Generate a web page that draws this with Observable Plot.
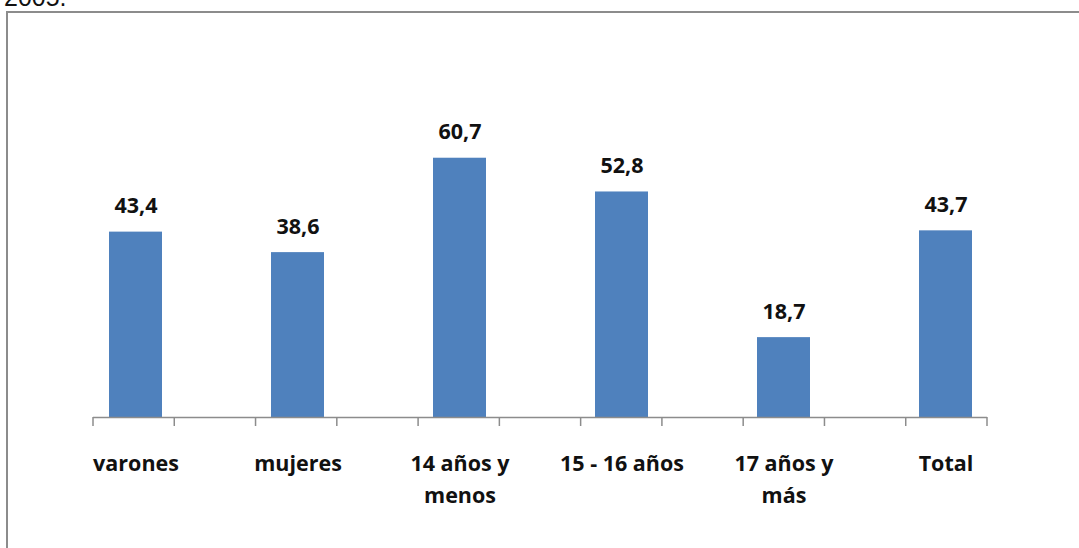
<!DOCTYPE html>
<html>
<head>
<meta charset="utf-8">
<script src="https://cdn.jsdelivr.net/npm/d3@7"></script>
<script src="https://cdn.jsdelivr.net/npm/@observablehq/plot@0.6"></script>
<style>
  html, body { margin: 0; padding: 0; background: #fff; overflow: hidden; width: 1079px; height: 548px; }
  #top { position: absolute; left: 4px; top: -17px; font: 25px "Liberation Sans", Arial, sans-serif; color: #111; }
  #box { position: absolute; left: 6px; top: 11px; width: 1080px; height: 560px; border: 2px solid #8c8c8c; background: #fff; }
  #chart { position: absolute; left: 1px; top: 1px; }
</style>
</head>
<body>
<div id="top">2005.</div>
<div id="box"><div id="chart"></div></div>
<script>
const categories = ["varones", "mujeres", "14 años y\nmenos", "15 - 16 años", "17 años y\nmás", "Total"];
const values = [43.4, 38.6, 60.7, 52.8, 18.7, 43.7];
const valueLabels = ["43,4", "38,6", "60,7", "52,8", "18,7", "43,7"];

const data = categories.map((c, i) => ({cat: c, value: values[i], label: valueLabels[i]}));

const font = "'Open Sans', Lato, sans-serif";

const tickMarks = (index, scales, values, dims) => {
  const g = document.createElementNS("http://www.w3.org/2000/svg", "g");
  const x0 = dims.marginLeft, x1 = dims.width - dims.marginRight;
  const y0 = dims.height - dims.marginBottom;
  const n = 11;
  for (let i = 0; i <= n; i++) {
    const x = x0 + (x1 - x0) * i / n;
    const l = document.createElementNS("http://www.w3.org/2000/svg", "line");
    l.setAttribute("x1", x); l.setAttribute("x2", x);
    l.setAttribute("y1", y0); l.setAttribute("y2", y0 + 9);
    l.setAttribute("stroke", "#8c8c8c");
    l.setAttribute("stroke-width", 1.5);
    g.appendChild(l);
  }
  return g;
};

const chart = Plot.plot({
  width: 1070,
  height: 534,
  marginLeft: 84,
  marginRight: 92,
  marginTop: 104,
  marginBottom: 131,
  style: {fontFamily: font, background: "#fff"},
  x: {domain: categories, paddingInner: 0.674, paddingOuter: 0.087, align: 0.5},
  y: {domain: [0, 70], axis: null},
  marks: [
    Plot.barY(data, {x: "cat", y: "value", fill: "#4f81bd"}),
    Plot.ruleY([0], {stroke: "#8c8c8c", strokeWidth: 1.5}),
    tickMarks,
    Plot.text(data, {x: "cat", y: "value", text: "label", dy: -19, lineAnchor: "bottom",
      fontSize: 21.5, fontWeight: "bold", fill: "#111"}),
    Plot.axisX({tickSize: 0, tickPadding: 31, fontSize: 21.5, fontWeight: "bold", fill: "#111",
      lineHeight: 1.49, label: null})
  ]
});
document.getElementById("chart").appendChild(chart);
</script>
</body>
</html>
